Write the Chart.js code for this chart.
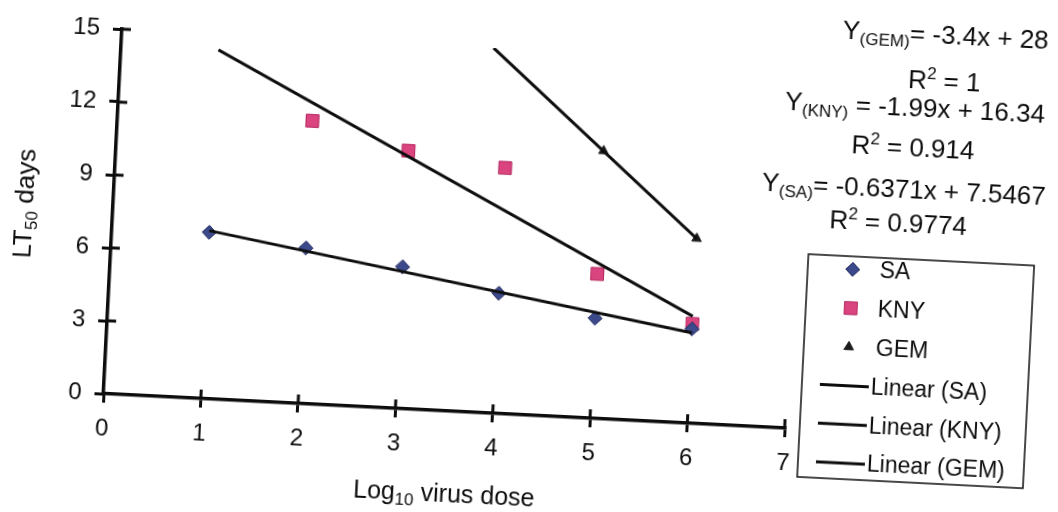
<!DOCTYPE html>
<html>
<head>
<meta charset="utf-8">
<script src="https://cdn.jsdelivr.net/npm/chart.js@4/dist/chart.umd.min.js"></script>
<style>
  html, body { margin: 0; background: #fff; overflow: hidden; }
  #wrap { width: 1058px; height: 512px; }
  /* the scanned figure sits a few degrees clockwise */
  #lt50 { transform: rotate(2.9deg); transform-origin: 529px 256px; }
</style>
</head>
<body>
<div id="wrap"><canvas id="lt50" width="1058" height="512"></canvas></div>
<script>
// LT50 (days) against log10 virus dose
const saDose = [1, 2, 3, 4, 5, 6];
const saLT50 = [6.84, 6.40, 5.83, 4.94, 4.12, 3.88];
const knyDose = [2, 3, 4, 5, 6];
const knyLT50 = [11.63, 10.6, 10.1, 5.94, 4.09];
const gemDose = [5, 6];
const gemLT50 = [11.0, 7.6];

// trendline ends as drawn in the figure
const saTrendX = [1, 6];
const saTrendY = [6.91, 3.72];
const knyTrendX = [1, 6];
const knyTrendY = [14.35, 4.4];
const gemTrendX = [3.82, 6];
const gemTrendY = [15, 7.6];

const xTickValues = [0, 1, 2, 3, 4, 5, 6, 7];
const yTickValues = [0, 3, 6, 9, 12, 15];

const equations = [
  "Y_{(GEM)}= -3.4x + 28",
  "R^{2} = 1",
  "Y_{(KNY)} = -1.99x + 16.34",
  "R^{2} = 0.914",
  "Y_{(SA)}= -0.6371x + 7.5467",
  "R^{2} = 0.9774",
];
const equationPos = [[934, 23], [935, 69], [907, 97], [907, 137], [900, 179], [896, 213]];

const FONT = "'Liberation Sans', Arial, sans-serif";
const INK = "#0d0d0d";

const pts = (xs, ys) => xs.map((x, i) => ({ x: x, y: ys[i] }));

function parseRich(str) {
  const parts = [];
  const re = /([_^])\{([^}]*)\}|([^_^]+)/g;
  let m;
  while ((m = re.exec(str))) {
    if (m[3]) parts.push({ t: m[3], s: "n" });
    else parts.push({ t: m[2], s: m[1] === "_" ? "sub" : "sup" });
  }
  return parts;
}

function richText(ctx, str, x, y, size) {
  const parts = parseRich(str);
  const fontOf = p => (p.s === "n" ? size : Math.round(size * 0.66)) + "px " + FONT;
  const widths = parts.map(p => { ctx.font = fontOf(p); return ctx.measureText(p.t).width; });
  let cx = x - widths.reduce((a, b) => a + b, 0) / 2;
  ctx.textAlign = "left";
  ctx.textBaseline = "alphabetic";
  parts.forEach((p, i) => {
    ctx.font = fontOf(p);
    const dy = p.s === "sub" ? size * 0.2 : p.s === "sup" ? -size * 0.4 : 0;
    ctx.fillText(p.t, cx, y + dy);
    cx += widths[i];
  });
}

// inner half of the crossing tick marks
const crossTicks = {
  id: "crossTicks",
  afterDraw(chart) {
    const { ctx, chartArea: a, scales } = chart;
    ctx.save();
    ctx.strokeStyle = INK;
    ctx.lineWidth = 3;
    ctx.beginPath();
    xTickValues.forEach(v => {
      if (v === 0) return;
      const px = scales.x.getPixelForValue(v);
      ctx.moveTo(px, a.bottom);
      ctx.lineTo(px, a.bottom - 9);
    });
    yTickValues.forEach(v => {
      if (v === 0) return;
      const py = scales.y.getPixelForValue(v);
      ctx.moveTo(a.left, py);
      ctx.lineTo(a.left + 9, py);
    });
    ctx.stroke();
    ctx.restore();
  }
};

// axis titles, trendline equations and the boxed legend
const annotations = {
  id: "annotations",
  afterDraw(chart) {
    const ctx = chart.ctx;
    ctx.save();
    ctx.fillStyle = INK;

    richText(ctx, "Log_{10} virus dose", 456, 506, 25);

    ctx.save();
    ctx.translate(31, 229);
    ctx.rotate(-Math.PI / 2);
    richText(ctx, "LT_{50} days", 0, 0, 26);
    ctx.restore();

    equations.forEach((e, i) => richText(ctx, e, equationPos[i][0], equationPos[i][1], 26));

    // legend
    ctx.strokeStyle = INK;
    ctx.lineWidth = 1.5;
    ctx.strokeRect(808, 240, 226, 223);
    const rows = chart.data.datasets.slice().sort((p, q) => p.legendRow - q.legendRow);
    ctx.font = "23px " + FONT;
    ctx.textBaseline = "middle";
    ctx.textAlign = "left";
    rows.forEach((ds, i) => {
      const y = 253 + i * 38.8;
      if (ds.showLine) {
        ctx.strokeStyle = ds.borderColor;
        ctx.lineWidth = 3;
        ctx.beginPath();
        ctx.moveTo(826, y);
        ctx.lineTo(875, y);
        ctx.stroke();
        ctx.fillStyle = INK;
        ctx.fillText(ds.label, 877, y + 1);
      } else {
        ctx.fillStyle = ds.backgroundColor;
        ctx.strokeStyle = ds.borderColor;
        ctx.lineWidth = 1;
        Chart.helpers.drawPoint(ctx, {
          pointStyle: ds.pointStyle, rotation: 0,
          radius: ds.pointRadius, borderWidth: 1
        }, 853, y);
        ctx.fillStyle = INK;
        ctx.fillText(ds.label, 880, y + 1);
      }
    });
    ctx.restore();
  }
};

const trend = (label, data, row) => ({
  label: label, data: data, showLine: true, legendRow: row, order: 0,
  borderColor: INK, borderWidth: 3, pointRadius: 0, fill: false
});

const lt50Chart = new Chart(document.getElementById("lt50"), {
  type: "scatter",
  data: {
    datasets: [
      {
        label: "SA", data: pts(saDose, saLT50), legendRow: 0, order: 1,
        pointStyle: "rectRot", pointRadius: 7,
        backgroundColor: "#3c4a8c", borderColor: "#232a5c", borderWidth: 1
      },
      {
        label: "KNY", data: pts(knyDose, knyLT50), legendRow: 1, order: 1,
        pointStyle: "rect", pointRadius: 9,
        backgroundColor: "#da4580", borderColor: "#b4265e", borderWidth: 1
      },
      {
        label: "GEM", data: pts(gemDose, gemLT50), legendRow: 2, order: 1,
        pointStyle: "triangle", pointRadius: 5.5,
        backgroundColor: "#1a1a1a", borderColor: "#1a1a1a", borderWidth: 1
      },
      trend("Linear (SA)", pts(saTrendX, saTrendY), 3),
      trend("Linear (KNY)", pts(knyTrendX, knyTrendY), 4),
      trend("Linear (GEM)", pts(gemTrendX, gemTrendY), 5),
    ]
  },
  options: {
    responsive: false,
    devicePixelRatio: 1,
    animation: false,
    layout: { padding: { left: 0, top: 50, right: 265, bottom: 0 } },
    scales: {
      x: {
        type: "linear", min: 0, max: 7,
        afterBuildTicks: s => { s.ticks = xTickValues.map(v => ({ value: v })); },
        afterFit: s => { s.height = 97; },
        ticks: { color: INK, padding: 12, font: { family: FONT, size: 24 } },
        grid: { drawOnChartArea: false, drawTicks: true, tickLength: 9, color: INK, lineWidth: 3 },
        border: { display: true, color: INK, width: 3.5 }
      },
      y: {
        min: 0, max: 15,
        afterBuildTicks: s => { s.ticks = yTickValues.map(v => ({ value: v })); },
        afterFit: s => { s.width = 111; },
        ticks: { color: INK, padding: 13, font: { family: FONT, size: 24 } },
        grid: { drawOnChartArea: false, drawTicks: true, tickLength: 9, color: INK, lineWidth: 3 },
        border: { display: true, color: INK, width: 3.5 }
      }
    },
    plugins: {
      legend: { display: false },
      tooltip: { enabled: false }
    }
  },
  plugins: [crossTicks, annotations]
});
</script>
</body>
</html>
